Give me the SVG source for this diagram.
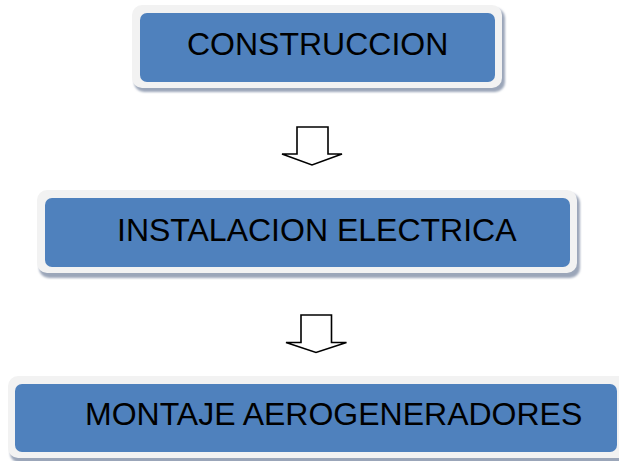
<svg xmlns="http://www.w3.org/2000/svg" width="619" height="461" viewBox="0 0 619 461">
<defs>
<filter id="sh" x="-5%" y="-10%" width="110%" height="130%"><feGaussianBlur stdDeviation="0.8"/></filter>
</defs>
<style>
.shadow{fill:#9ba6b9;filter:url(#sh)}
.frame{fill:#f2f2f2}
.blue{fill:#4f81bd}
.lbl{font-family:"Liberation Sans",Arial,sans-serif;font-size:32px;fill:#000}
.arrow{fill:#fff;stroke:#000;stroke-width:1.6;stroke-linejoin:miter}
</style>
<rect width="619" height="461" fill="#fff"/>
<g id="node1">
<rect class="shadow" x="134" y="8" width="371" height="84" rx="10"/>
<rect class="frame" x="132" y="5" width="370" height="83" rx="10"/>
<rect class="blue" x="140" y="13" width="355" height="69" rx="7"/>
<text class="lbl" x="187" y="55">CONSTRUCCION</text>
</g>
<g id="node2">
<rect class="shadow" x="39" y="193" width="541" height="85" rx="10"/>
<rect class="frame" x="37" y="190" width="540" height="83" rx="10"/>
<rect class="blue" x="45" y="198" width="525" height="69" rx="7"/>
<text class="lbl" x="117" y="241">INSTALACION ELECTRICA</text>
</g>
<g id="node3">
<rect class="shadow" x="10" y="379" width="620" height="84" rx="10"/>
<rect class="frame" x="8" y="376" width="620" height="82" rx="10"/>
<rect class="blue" x="15" y="384" width="602" height="68" rx="7"/>
<text class="lbl" x="85" y="425">MONTAJE AEROGENERADORES</text>
</g>
<g id="connectors">
<polygon class="arrow" points="297,127 328,127 328,154 342,154 312,165 282,154 297,154"/>
<polygon class="arrow" points="301,315 331.5,315 331.5,342.5 346.5,342.5 316,352.5 286,342.5 301,342.5"/>
</g>
</svg>
